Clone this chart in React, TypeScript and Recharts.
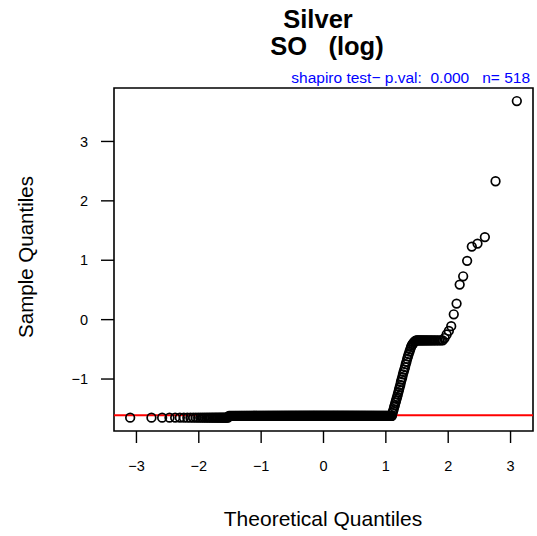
import React from 'react'
import { ScatterChart, Scatter, XAxis, YAxis, ReferenceLine, ReferenceArea } from 'recharts'

// sample quantiles, in sorted order (run lengths for the flat stretches)
const lowTailValue = -1.65
const lowTailCount = 33
const baseValue = -1.62
const baseCount = 415
const riseValues = [
  -1.57, -1.54, -1.51, -1.47, -1.44, -1.40, -1.37, -1.33, -1.30, -1.26,
  -1.22, -1.18, -1.14, -1.10, -1.05, -1.01, -0.97, -0.92, -0.88, -0.84,
  -0.80, -0.75, -0.71, -0.66, -0.62, -0.58, -0.54, -0.50, -0.46, -0.43,
  -0.41, -0.39, -0.37, -0.36, -0.35,
]
const plateauValue = -0.35
const plateauCount = 21
const upperTail = [-0.31, -0.25, -0.19, -0.11, 0.09, 0.27, 0.59, 0.73, 0.99, 1.23, 1.28, 1.39, 2.33, 3.68]

const qqLineY = -1.61
const xTicks = [-3, -2, -1, 0, 1, 2, 3]
const yTicks = [-1, 0, 1, 2, 3]
const X_DOMAIN: [number, number] = [-3.36, 3.36]
const Y_DOMAIN: [number, number] = [-1.875, 3.9]

const FONT = '"Liberation Sans", Arial, Helvetica, sans-serif'

// inverse normal cdf (Acklam)
function qnorm(p: number): number {
  const a = [-39.69683028665376, 220.9460984245205, -275.9285104469687, 138.357751867269, -30.66479806614716, 2.506628277459239]
  const b = [-54.47609879822406, 161.5858368580409, -155.6989798598866, 66.80131188771972, -13.28068155288572]
  const c = [-0.007784894002430293, -0.3223964580411365, -2.400758277161838, -2.549732539343734, 4.374664141464968, 2.938163982698783]
  const d = [0.007784695709041462, 0.3224671290700398, 2.445134137142996, 3.754408661907416]
  const plow = 0.02425
  if (p < plow || p > 1 - plow) {
    const q = Math.sqrt(-2 * Math.log(p < plow ? p : 1 - p))
    const v = (((((c[0] * q + c[1]) * q + c[2]) * q + c[3]) * q + c[4]) * q + c[5]) /
      ((((d[0] * q + d[1]) * q + d[2]) * q + d[3]) * q + 1)
    return p < plow ? v : -v
  }
  const q = p - 0.5
  const r = q * q
  return (((((a[0] * r + a[1]) * r + a[2]) * r + a[3]) * r + a[4]) * r + a[5]) * q /
    (((((b[0] * r + b[1]) * r + b[2]) * r + b[3]) * r + b[4]) * r + 1)
}

const sample: number[] = [
  ...Array(lowTailCount).fill(lowTailValue),
  ...Array(baseCount).fill(baseValue),
  ...riseValues,
  ...Array(plateauCount).fill(plateauValue),
  ...upperTail,
]
const n = sample.length
// theoretical quantiles as in qqnorm: qnorm(ppoints(n))
const points = sample.map((y, i) => ({ x: qnorm((i + 1 - 0.5) / n), y }))

const fmt = (v: number) => (v < 0 ? '\u2212' + Math.abs(v) : String(v))

const Ring = (props: any) => (
  <circle cx={props.cx} cy={props.cy} r={4.3} fill="none" stroke="#000" strokeWidth={1.7} />
)

export default function App() {
  return (
    <div style={{ position: 'absolute', left: 0, top: 0, width: 537, height: 536, background: '#fff' }}>
      <ScatterChart width={537} height={536} margin={{ top: 88, right: 4, bottom: 0, left: 0 }}>
        <XAxis
          type="number" dataKey="x" domain={X_DOMAIN} ticks={xTicks} allowDataOverflow
          height={105} axisLine={false} tickSize={12} tickMargin={18}
          tickLine={{ stroke: '#000', strokeWidth: 1.4 }}
          tick={{ fill: '#000', fontSize: 14.5, fontFamily: FONT }}
          tickFormatter={fmt}
        />
        <YAxis
          type="number" dataKey="y" domain={Y_DOMAIN} ticks={yTicks} allowDataOverflow
          width={114} axisLine={false} tickSize={13} tickMargin={13}
          tickLine={{ stroke: '#000', strokeWidth: 1.4 }}
          tick={{ fill: '#000', fontSize: 14.5, fontFamily: FONT }}
          tickFormatter={fmt}
        />
        <Scatter data={points} shape={Ring} isAnimationActive={false} />
        <ReferenceLine y={qqLineY} stroke="#ff0000" strokeWidth={2} />
        <ReferenceArea
          x1={X_DOMAIN[0]} x2={X_DOMAIN[1]} y1={Y_DOMAIN[0]} y2={Y_DOMAIN[1]}
          fill="none" fillOpacity={0} stroke="#000" strokeWidth={1.6}
        />
      </ScatterChart>
      <svg width={537} height={536} style={{ position: 'absolute', left: 0, top: 0, pointerEvents: 'none' }}>
        <g fontFamily={FONT} fill="#000">
          <text x={318} y={28} textAnchor="middle" fontSize={25.5} fontWeight="bold">Silver</text>
          <text x={327} y={55} textAnchor="middle" fontSize={25.5} fontWeight="bold" style={{ whiteSpace: 'pre' }}>SO   (log)</text>
          <text x={530} y={83} textAnchor="end" fontSize={15.5} fill="#0000ff" style={{ whiteSpace: 'pre' }}>
            shapiro test{'\u2212'} p.val:  0.000   n= 518
          </text>
          <text x={323} y={526} textAnchor="middle" fontSize={21}>Theoretical Quantiles</text>
          <text transform="translate(33,257) rotate(-90)" textAnchor="middle" fontSize={20.5}>Sample Quantiles</text>
        </g>
      </svg>
    </div>
  )
}
